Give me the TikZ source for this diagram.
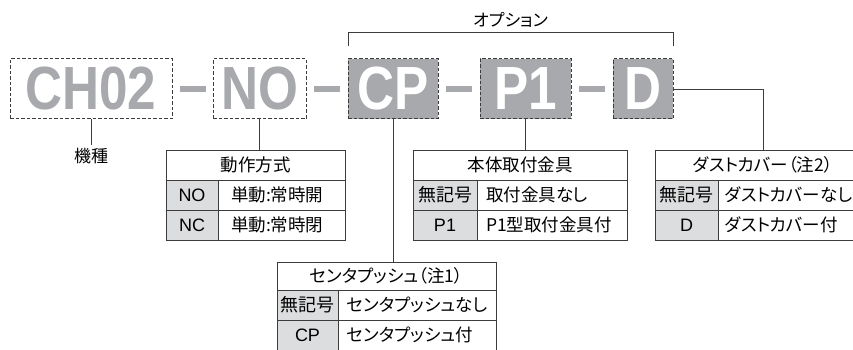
\documentclass[tikz,border=0pt]{standalone}
\usepackage{fontspec}
\setmainfont{Liberation Sans}
\newfontfamily\jpfont[RawFeature=+palt]{Noto Sans CJK JP}
\usetikzlibrary{calc,positioning}

\definecolor{codegray}{HTML}{A7A9AC}
\definecolor{keygray}{HTML}{DCDDDE}
\definecolor{linegray}{HTML}{3C3C3C}
\newcommand{\codetxt}[1]{\scalebox{0.84}[1]{\fontsize{61}{61}\selectfont\bfseries #1}}

\begin{document}
\begin{tikzpicture}[
        x=1pt,
        y=-1pt,
        conn/.style={draw=linegray, line width=0.9pt},
        codebox/.style={draw=linegray, line width=1pt, dash pattern=on 3.5pt off 2pt,
            minimum height=60, inner sep=0pt, outer sep=0pt, text=codegray},
        optbox/.style={codebox, fill=codegray, text=white},
        hyph/.style={fill=codegray, minimum width=26, minimum height=6, inner sep=0pt},
        cell/.style={draw=linegray, line width=0.9pt, minimum height=30, inner sep=0pt,
            outer sep=0pt, font=\jpfont\fontsize{17.5}{18}\selectfont},
        hdcell/.style={cell, anchor=north west},
        keycell/.style={cell, fill=keygray, font=\fontsize{18}{18}\selectfont},
        valcell/.style={cell, text width=#1, align=left, inner xsep=9pt},
        lab/.style={font=\jpfont\fontsize{17}{17}\selectfont}
    ]
        \useasboundingbox (0,0) rectangle (853,350);

        % model code
        \node[codebox, minimum width=162] (ch) at (91,89) {\codetxt{CH02}};
        \node[codebox, minimum width=93] (no) at (259.5,89) {\codetxt{NO}};
        \node[optbox, minimum width=90] (cp) at (393,89) {\codetxt{CP}};
        \node[optbox, minimum width=91] (p1) at (525.5,89) {\codetxt{P1}};
        \node[optbox, minimum width=60] (d) at (643,89) {\codetxt{D}};
        \foreach \a/\b/\n in {ch/no/1,no/cp/2,cp/p1/3,p1/d/4}{
            \node[hyph] (h\n) at ($(\a.east)!0.5!(\b.west)$) {};
        }

        % option bracket
        \draw[conn] ([yshift=13]cp.north west) -- ++(0,-14) coordinate (opl)
            -| ([yshift=13]d.north east) coordinate (opr);
        \node[lab, above=1pt] (opt) at ($(opl)!0.5!(opl -| opr)$) {オプション};

        % kishu
        \node[lab, below=26pt of ch] (kishu) {機種};
        \draw[conn] (ch.south) -- (kishu.north);

        % dosa
        \node[hdcell, minimum width=179] (dosa) at (166,150) {動作方式};
        \node[keycell, minimum width=52, anchor=north west] (dosa k1) at (dosa.south west) {NO};
        \node[valcell=101, inner xsep=13pt, right=0pt of dosa k1] (dosa v1) {単動:常時開};
        \node[keycell, minimum width=52, below=0pt of dosa k1] (dosa k2) {NC};
        \node[valcell=101, inner xsep=13pt, right=0pt of dosa k2] (dosa v2) {単動:常時閉};
        \draw[conn] (no.south) -- (no.south |- dosa.north);

        % center push
        \node[hdcell, minimum width=219, minimum height=28] (push) at (277,262) {センタプッシュ（注1）};
        \node[keycell, minimum width=61, anchor=north west] (push k1) at (push.south west) {\jpfont 無記号};
        \node[valcell=140, right=0pt of push k1] (push v1) {センタプッシュなし};
        \node[keycell, minimum width=61, below=0pt of push k1] (push k2) {CP};
        \node[valcell=140, right=0pt of push k2] (push v2) {センタプッシュ付};
        \draw[conn] (cp.south) -- (cp.south |- push.north);

        % bracket
        \node[hdcell, minimum width=214] (brkt) at (413,150) {本体取付金具};
        \node[keycell, minimum width=64, anchor=north west] (brkt k1) at (brkt.south west) {\jpfont 無記号};
        \node[valcell=132, right=0pt of brkt k1] (brkt v1) {取付金具なし};
        \node[keycell, minimum width=64, below=0pt of brkt k1] (brkt k2) {P1};
        \node[valcell=132, right=0pt of brkt k2] (brkt v2) {P1型取付金具付};
        \draw[conn] (p1.south) -- (p1.south |- brkt.north);

        % dust cover
        \node[hdcell, minimum width=216] (dust) at (655,150) {ダストカバー（注2）};
        \node[keycell, minimum width=63, anchor=north west] (dust k1) at (dust.south west) {\jpfont 無記号};
        \node[valcell=139, inner xsep=7pt, right=0pt of dust k1] (dust v1) {ダストカバーなし};
        \node[keycell, minimum width=63, below=0pt of dust k1] (dust k2) {D};
        \node[valcell=139, inner xsep=7pt, right=0pt of dust k2] (dust v2) {ダストカバー付};
        \draw[conn] (d.east) -| (dust.north);
    \end{tikzpicture}
\end{document}
